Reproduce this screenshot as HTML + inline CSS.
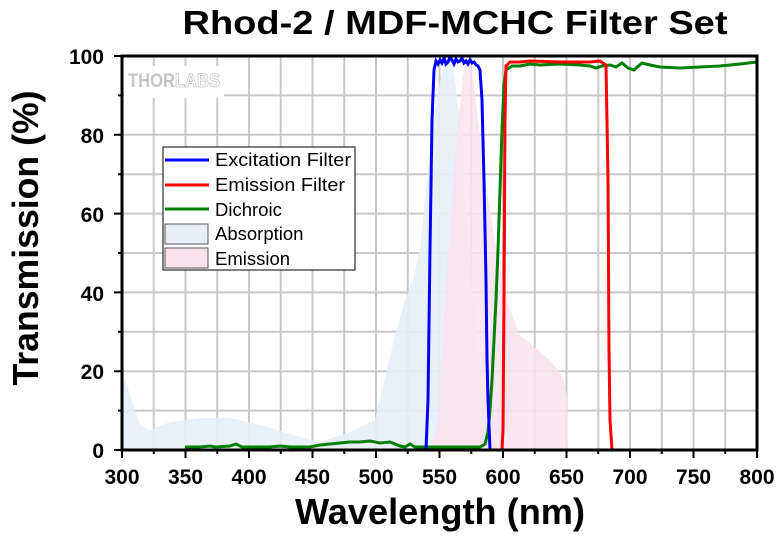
<!DOCTYPE html><html><head><style>body{margin:0;background:#fff}svg{font-family:"Liberation Sans",sans-serif;font-weight:bold}</style></head><body>
<svg width="780" height="532" viewBox="0 0 780 532">
<defs><clipPath id="c"><rect x="122" y="54" width="635" height="398"/></clipPath></defs>
<text x="455" y="34" font-size="33" text-anchor="middle" textLength="545" lengthAdjust="spacingAndGlyphs">Rhod-2 / MDF-MCHC Filter Set</text>
<g stroke="#c8c8c8" stroke-width="2">
<path d="M153.75 56V450M185.5 56V450M217.25 56V450M249 56V450M280.75 56V450M312.5 56V450M344.25 56V450M376 56V450M407.75 56V450M439.5 56V450M471.25 56V450M503 56V450M534.75 56V450M566.5 56V450M598.25 56V450M630 56V450M661.75 56V450M693.5 56V450M725.25 56V450"/>
<path d="M122 95.4H757M122 134.8H757M122 174.2H757M122 213.6H757M122 253H757M122 292.4H757M122 331.8H757M122 371.2H757M122 410.6H757"/>
</g>
<rect x="124" y="66" width="100" height="32" fill="#fff"/>
<text x="128" y="87" font-size="19" fill="#c4c4c4" textLength="92" lengthAdjust="spacingAndGlyphs">THOR<tspan fill="#fff" stroke="#c4c4c4" stroke-width="0.8">LABS</tspan></text>
<g clip-path="url(#c)">
<polygon fill="#e6eef8" opacity="0.9" points="122,371 130,395 140,425 150,430 170,422 200,418 230,418 260,425 290,434 320,442 350,432 375,420 395,335 405,300 413,280 420,250 430,150 438,90 445,60 450,56 455,80 462,140 470,270 478,350 488,420 496,445 505,450 122,450"/>
<polygon fill="#f9e2ec" opacity="0.85" points="430,450 438,420 445,300 452,200 458,120 464,70 468,56 472,70 478,120 488,200 500,270 510,310 520,335 535,348 550,360 562,375 567,395 568,450"/>
<polyline fill="none" stroke="#008000" stroke-width="3" points="185,447 200,447 210,446 215,447 230,446 236,444 242,447 270,447 280,446 290,447 310,447 320,445 330,444 340,443 350,442 360,442 370,441 380,443 390,442 400,446 405,447 410,444 415,447 480,447 485,444 488,432 490,410 492,380 494,340 496,300 498,250 500,190 502,130 504,85 506,70 512,66 520,66 530,64 540,65 560,64 580,65 590,66 596,68 602,66 610,65 616,67 622,63 628,68 634,70 642,63 650,65 660,67 680,68 700,67 720,66 740,64 757,62"/>
<polyline fill="none" stroke="#0000ff" stroke-width="3" points="122,450 426,450 428,400 430,250 432,120 434,70 436,61 438,64 440,60 442,63 444,58 446,64 448,62 450,57 452,60 454,64 456,59 458,62 460,61 462,58 464,63 466,61 468,64 470,60 472,63 474,62 476,65 478,66 480,70 482,100 484,180 486,280 487,360 488,400 490,450 757,450"/>
<polyline fill="none" stroke="#ff0000" stroke-width="3" points="122,450 502,450 503,430 504,300 505,120 506,66 510,62 520,62 530,61 560,62 590,62 600,61 606,65 608,180 609,350 610,420 612,450 757,450"/>
</g>
<rect x="122" y="56" width="635" height="394" fill="none" stroke="#000" stroke-width="3"/>
<g stroke="#000" stroke-width="2">
<path d="M122 56h-8M122 134.8h-8M122 213.6h-8M122 292.4h-8M122 371.2h-8M122 450h-8M122 95.4h-4M122 174.2h-4M122 253h-4M122 331.8h-4M122 410.6h-4"/>
<path d="M122 450v8M185.5 450v8M249 450v8M312.5 450v8M376 450v8M439.5 450v8M503 450v8M566.5 450v8M630 450v8M693.5 450v8M757 450v8M153.75 450v4M217.25 450v4M280.75 450v4M344.25 450v4M407.75 450v4M471.25 450v4M534.75 450v4M598.25 450v4M661.75 450v4M725.25 450v4"/>
</g>
<g font-size="21" text-anchor="end">
<text x="104" y="64">100</text><text x="104" y="143">80</text><text x="104" y="222">60</text><text x="104" y="301">40</text><text x="104" y="379">20</text><text x="104" y="458">0</text>
</g>
<g font-size="21" text-anchor="middle">
<text x="122" y="484">300</text><text x="185.5" y="484">350</text><text x="249" y="484">400</text><text x="312.5" y="484">450</text><text x="376" y="484">500</text><text x="439.5" y="484">550</text><text x="503" y="484">600</text><text x="566.5" y="484">650</text><text x="630" y="484">700</text><text x="693.5" y="484">750</text><text x="757" y="484">800</text>
</g>
<text x="440" y="524" font-size="36" text-anchor="middle" textLength="290" lengthAdjust="spacingAndGlyphs">Wavelength (nm)</text>
<text transform="translate(38,238) rotate(-90)" font-size="36" text-anchor="middle" textLength="295" lengthAdjust="spacingAndGlyphs">Transmission (%)</text>
<g font-weight="normal" font-size="18.5">
<rect x="163" y="147" width="192" height="123" fill="#fff" stroke="#000" stroke-width="1"/>
<path d="M165 160h44" stroke="#0000ff" stroke-width="3"/><text x="215" y="166" textLength="136" lengthAdjust="spacingAndGlyphs">Excitation Filter</text>
<path d="M165 185h44" stroke="#ff0000" stroke-width="3"/><text x="215" y="191" textLength="130" lengthAdjust="spacingAndGlyphs">Emission Filter</text>
<path d="M165 209h44" stroke="#008000" stroke-width="3"/><text x="215" y="216">Dichroic</text>
<rect x="165" y="224" width="43" height="20" fill="#e6eef8" stroke="#555"/><text x="215" y="240">Absorption</text>
<rect x="165" y="248" width="43" height="20" fill="#f9e2ec" stroke="#555"/><text x="215" y="265">Emission</text>
</g>
</svg></body></html>
